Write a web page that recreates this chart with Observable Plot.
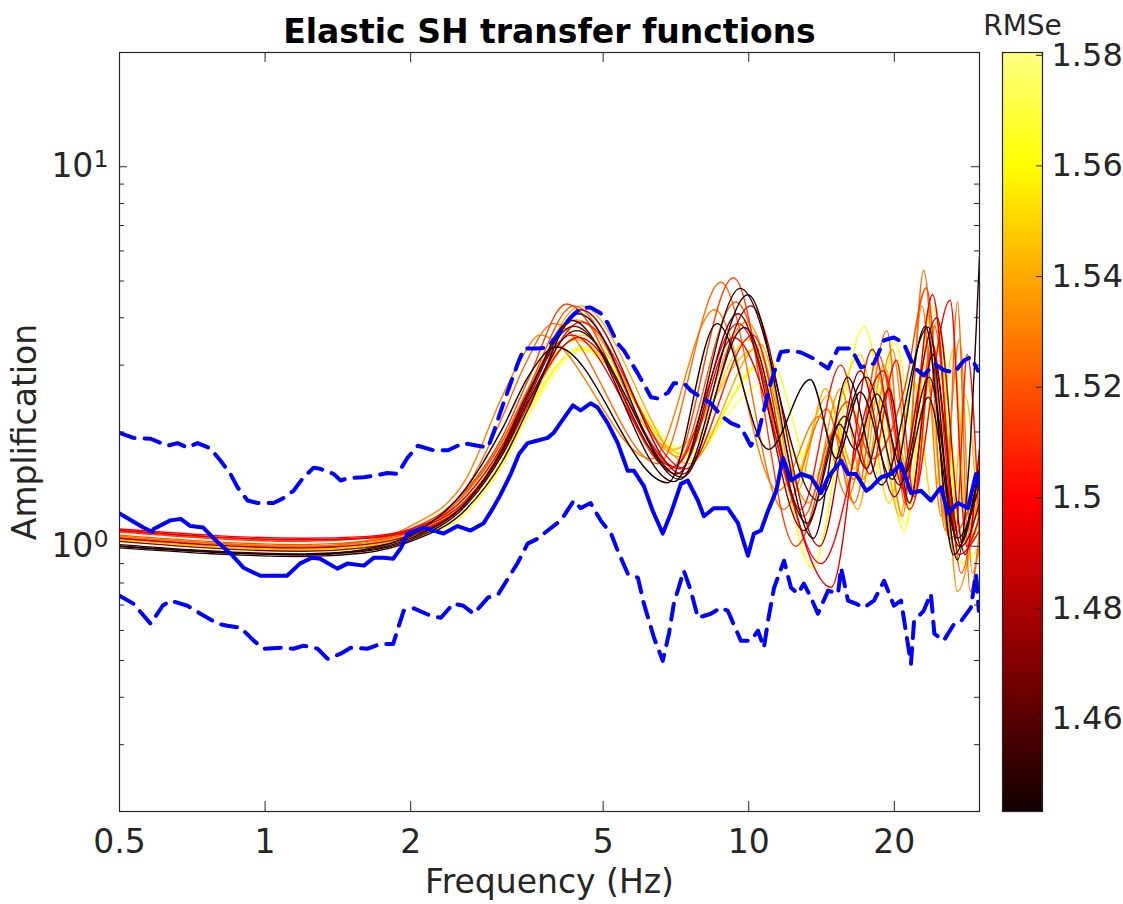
<!DOCTYPE html>
<html><head><meta charset="utf-8">
<script src="https://cdn.jsdelivr.net/npm/d3@7"></script>
<script src="https://cdn.jsdelivr.net/npm/@observablehq/plot@0.6"></script>
<style>
html,body{margin:0;padding:0;background:#fff;}
#wrap{display:flex;width:1123px;height:904px;background:#fff;}
#wrap svg{display:block;}
</style></head><body><div id="wrap"></div>
<script>
// ---- axis ticks ----
const freqTicks = [0.5, 1, 2, 5, 10, 20];
const ampMajorTicks = [1, 10];
const ampMajorExp = ["0", "1"];
const ampMinorTicks = [0.3, 0.4, 0.5, 0.6, 0.7, 0.8, 0.9, 2, 3, 4, 5, 6, 7, 8, 9];
const rmseTicks = [1.46, 1.48, 1.5, 1.52, 1.54, 1.56, 1.58];
const rmseDomain = [1.4433, 1.5805];

// ---- observed mean (solid blue) ----
const meanFreq = [0.5,0.56,0.585,0.588,0.637,0.669,0.701,0.745,0.782,0.849,0.902,0.978,1.11,1.18,1.25,1.30,1.41,1.48,1.60,1.68,1.76,1.84,1.91,1.97,2.13,2.34,2.50,2.66,2.83,2.96,3.07,3.22,3.35,3.49,3.66,3.84,3.95,4.15,4.33,4.49,4.71,4.87,5.11,5.36,5.62,5.79,6.07,6.33,6.64,6.90,7.24,7.48,7.85,8.08,8.47,9.05,9.50,9.96,10.25,10.6,10.96,11.4,11.77,12.23,12.82,13.45,14.11,14.59,15.52,16.04,16.66,17.49,17.91,18.77,19.70,20.65,21.65,22.71,23.8,24.98,25.8,27.1,28.4,29.5,30];
const meanAmp = [1.22,1.12,1.09,1.11,1.17,1.18,1.13,1.12,1.05,0.956,0.878,0.836,0.836,0.90,0.933,0.927,0.873,0.90,0.889,0.933,0.933,0.927,0.99,1.08,1.12,1.08,1.13,1.10,1.15,1.26,1.37,1.55,1.75,1.87,1.90,1.93,1.99,2.18,2.35,2.28,2.38,2.32,2.11,1.87,1.58,1.58,1.44,1.24,1.08,1.22,1.46,1.49,1.32,1.20,1.26,1.26,1.15,0.944,1.08,1.10,1.24,1.40,1.71,1.49,1.55,1.52,1.38,1.52,1.68,1.55,1.55,1.40,1.43,1.52,1.55,1.65,1.38,1.40,1.32,1.43,1.22,1.30,1.26,1.55,1.43];

// ---- upper bound (dashed blue) ----
const upperFreq = [0.5,0.534,0.58,0.628,0.659,0.691,0.725,0.771,0.809,0.848,0.877,0.92,0.965,1.041,1.092,1.145,1.201,1.26,1.30,1.386,1.433,1.48,1.60,1.71,1.79,1.88,1.97,2.07,2.23,2.39,2.57,2.75,2.89,2.97,3.11,3.22,3.33,3.43,3.66,3.84,4.09,4.29,4.49,4.71,4.94,5.11,5.36,5.52,5.90,6.28,6.49,6.81,7.0,7.34,7.59,7.96,8.35,8.76,9.19,9.63,10.1,10.45,10.75,11.1,11.65,12.23,12.82,13.64,14.59,15.3,16.28,17.06,18.15,19.05,19.96,20.9,21.97,23.0,24.2,25.3,26.6,27.9,28.8,29.8,30];
const upperAmp = [1.99,1.93,1.92,1.84,1.87,1.82,1.87,1.81,1.68,1.55,1.43,1.32,1.30,1.30,1.34,1.40,1.52,1.61,1.60,1.55,1.49,1.51,1.52,1.54,1.56,1.55,1.71,1.84,1.79,1.79,1.87,1.84,1.82,2.0,2.38,2.69,3.03,3.32,3.32,3.34,3.71,4.01,4.24,4.26,4.11,3.87,3.42,3.28,2.85,2.47,2.45,2.54,2.69,2.69,2.57,2.47,2.38,2.21,2.11,2.06,1.84,1.98,2.28,2.69,3.25,3.28,3.24,3.12,2.94,3.32,3.32,2.96,3.03,3.49,3.55,3.43,2.96,2.82,3.03,2.91,2.87,3.09,3.15,2.9,2.9];

// ---- lower bound (dashed blue) ----
const lowerFreq = [0.5,0.534,0.58,0.614,0.637,0.691,0.735,0.798,0.836,0.89,0.947,0.993,1.077,1.145,1.201,1.284,1.347,1.433,1.503,1.63,1.734,1.84,1.934,2.03,2.20,2.31,2.45,2.57,2.70,2.89,3.04,3.33,3.49,3.66,3.84,4.09,4.35,4.49,4.71,4.94,5.19,5.36,5.62,5.90,6.07,6.37,6.64,6.84,7.0,7.34,7.59,7.85,8.35,8.76,9.05,9.63,10.1,10.45,10.75,10.96,11.28,11.83,12.23,12.64,13.0,13.45,13.9,14.59,15.3,15.52,16.04,16.66,17.3,18.15,19.05,19.96,20.65,21.65,21.97,23.0,23.8,24.2,25.3,26.6,27.5,28.8,29.5,29.9];
const lowerAmp = [0.741,0.706,0.625,0.697,0.719,0.697,0.664,0.625,0.617,0.610,0.564,0.537,0.540,0.537,0.547,0.537,0.505,0.521,0.540,0.537,0.553,0.553,0.676,0.686,0.656,0.648,0.706,0.697,0.664,0.732,0.750,0.905,1.016,1.047,1.10,1.17,1.32,1.26,1.30,1.17,1.08,0.974,0.847,0.826,0.706,0.574,0.499,0.588,0.706,0.862,0.764,0.648,0.664,0.689,0.676,0.564,0.564,0.599,0.540,0.636,0.777,0.916,0.777,0.750,0.797,0.732,0.664,0.764,0.750,0.878,0.719,0.706,0.689,0.719,0.811,0.697,0.719,0.490,0.636,0.676,0.750,0.588,0.564,0.625,0.636,0.689,0.847,0.676];

// ---- elastic SH transfer functions (one per model), coloured by RMSe ----
const tfRmse = [1.445,1.448,1.452,1.456,1.47,1.48,1.495,1.50,1.505,1.515,1.52,1.525,1.53,1.535,1.54,1.545,1.55,1.56,1.565,1.575];
const tfFreq = [
  [0.5,1.2,1.6,2.0,2.6,3.1,3.5,4.0,6.8,8.6,11.0,13.4,15.2,17.0,19.8,23.2,26.5,30],
  [0.5,1.2,1.6,2.0,2.6,3.1,3.5,4.45,7.2,9.96,13.6,16.0,18.8,23.5,27.0,28.5,30],
  [0.5,1.2,1.6,2.0,2.6,3.1,3.5,4.3,7.0,9.6,13.9,17.5,20.5,23.6,27.2,30],
  [0.5,1.2,1.6,2.0,2.6,3.1,3.5,4.4,7.3,9.8,13.2,15.4,16.6,18.4,21.0,23.5,27.0,30],
  [0.5,1.2,1.6,2.0,2.6,3.1,3.5,4.35,7.1,9.5,13.0,15.8,17.5,19.5,21.5,24.0,27.5,30],
  [0.5,1.2,1.6,2.0,2.6,3.1,3.5,4.5,7.3,10.1,14.0,17.0,20.0,24.5,28.0,30],
  [0.5,1.2,1.6,2.0,2.6,3.1,3.5,4.45,7.2,9.3,14.8,18.0,21.0,24.0,27.2,30],
  [0.5,1.2,1.6,2.0,2.6,3.1,3.5,4.3,7.0,9.5,14.1,19.0,21.5,26.1,28.2,30],
  [0.5,1.2,1.6,2.0,2.6,3.1,3.5,4.5,7.4,10.2,12.8,15.5,17.8,20.2,22.0,24.0,26.8,28.3,30],
  [0.5,1.2,1.6,2.0,2.6,3.1,3.5,4.2,6.9,9.3,12.5,16.0,18.0,21.0,23.3,26.0,30],
  [0.5,1.2,1.6,2.0,2.6,3.1,3.5,4.35,7.0,9.4,13.0,15.0,16.5,18.5,21.5,24.2,27.5,30],
  [0.5,1.2,1.6,2.0,2.6,3.1,3.4,3.95,6.5,8.76,11.8,14.5,16.5,19.3,21.0,23.0,25.5,27.0,28.7,30],
  [0.5,1.2,1.6,2.0,2.6,3.1,3.4,3.7,6.3,8.5,11.5,14.0,16.0,18.5,20.8,22.8,25.0,27.3,29.0,30],
  [0.5,1.2,1.6,2.0,2.6,3.1,3.5,4.4,7.2,9.9,13.3,15.5,17.2,19.8,21.8,24.5,27.0,30],
  [0.5,1.2,1.6,2.0,2.6,3.1,3.5,4.5,7.5,10.6,12.6,14.4,16.8,19.0,21.3,23.7,26.5,30],
  [0.5,1.2,1.6,2.0,2.6,3.1,3.5,4.4,7.0,10.3,12.2,14.6,16.5,18.3,20.5,23.0,26.0,28.0,30],
  [0.5,1.2,1.6,2.0,2.6,3.1,3.5,4.5,7.3,10.0,13.5,17.0,19.5,22.0,24.0,26.5,28.5,30],
  [0.5,1.2,1.6,2.0,2.6,3.1,3.5,4.5,7.6,10.5,13.5,17.3,21.0,24.0,27.5,30],
  [0.5,1.2,1.6,2.0,2.6,3.1,3.5,4.55,7.4,11.0,14.0,16.5,18.0,20.0,22.5,25.0,27.5,30],
  [0.5,1.2,1.6,2.0,2.6,3.1,3.5,4.6,7.5,10.8,12.6,14.5,17.0,19.0,21.0,24.5,28.0,30]
];
const tfAmp = [
  [1.00,0.95,0.98,1.07,1.42,2.05,2.8,3.35,1.47,3.86,1.80,2.75,1.70,2.55,1.50,3.8,0.95,1.6],
  [0.99,0.94,0.96,1.03,1.25,1.68,2.3,4.1,1.5,4.6,1.05,2.79,1.45,3.78,0.92,1.6,5.8],
  [1.01,0.955,0.975,1.05,1.3,1.8,2.5,3.94,1.48,4.78,1.32,2.79,1.45,2.79,1.0,1.6],
  [1.0,0.95,0.97,1.04,1.28,1.75,2.4,3.7,1.52,3.77,1.15,2.1,1.8,2.52,1.55,2.47,1.05,1.45],
  [1.03,0.97,0.99,1.06,1.3,1.82,2.55,3.8,1.55,4.1,1.1,2.2,1.6,2.6,1.3,3.2,1.0,1.3],
  [1.05,0.99,1.01,1.07,1.3,1.78,2.45,4.2,1.55,4.3,1.0,2.9,1.35,4.0,0.95,1.8],
  [1.10,1.04,1.05,1.10,1.32,1.78,2.4,3.55,1.6,3.55,0.78,3.3,1.4,4.6,0.95,1.1],
  [1.11,1.05,1.06,1.11,1.35,1.85,2.55,3.6,1.62,3.86,0.90,2.9,1.25,4.45,1.0,1.2],
  [1.10,1.04,1.05,1.09,1.3,1.75,2.35,3.9,1.6,3.6,1.25,3.0,1.55,3.09,1.35,3.4,1.1,3.2,1.1],
  [1.09,1.03,1.05,1.11,1.4,1.95,2.75,4.35,1.6,5.1,1.0,2.4,1.7,2.6,4.8,1.05,1.5],
  [1.07,1.01,1.03,1.09,1.38,1.9,2.6,4.3,1.62,4.4,1.2,2.0,1.5,3.2,1.3,3.8,0.85,1.8],
  [1.06,1.0,1.03,1.11,1.42,2.2,2.9,3.86,1.65,4.96,1.25,2.3,1.3,3.7,1.3,5.33,1.1,4.4,0.76,1.1],
  [1.05,0.99,1.03,1.13,1.5,2.5,3.15,3.6,1.7,4.2,1.4,2.2,1.35,2.8,1.2,4.3,1.2,3.5,0.85,1.0],
  [1.06,1.0,1.02,1.09,1.38,1.9,2.6,3.95,1.72,3.9,1.3,2.6,1.5,3.3,1.35,3.9,0.76,1.5],
  [1.05,0.99,1.01,1.08,1.35,1.85,2.55,4.3,1.65,3.4,1.4,2.6,1.25,3.0,1.6,3.6,1.0,1.3],
  [1.04,0.98,1.0,1.07,1.32,1.8,2.45,3.5,1.8,3.3,1.45,2.5,1.6,2.4,1.2,3.0,1.05,2.5,1.0],
  [1.06,1.0,1.01,1.07,1.3,1.75,2.35,3.6,1.75,3.5,1.5,3.2,1.3,2.7,1.3,3.3,1.0,1.2],
  [1.05,0.99,1.0,1.05,1.25,1.7,2.3,3.3,1.7,3.0,0.88,3.78,1.1,4.3,1.1,1.3],
  [1.04,0.98,0.99,1.04,1.24,1.66,2.25,3.35,1.75,3.1,1.4,2.3,1.4,3.5,1.7,3.6,0.9,1.0],
  [1.03,0.97,0.98,1.04,1.22,1.63,2.2,3.3,1.78,2.7,1.7,2.3,1.45,2.2,1.15,3.4,1.2,1.5]
];

// ---- build tables ----
const pairRows = (fs, as) => fs.map((f, i) => ({f, a: as[i]}));
const meanRows = pairRows(meanFreq, meanAmp);
const upperRows = pairRows(upperFreq, upperAmp);
const lowerRows = pairRows(lowerFreq, lowerAmp);
const order = tfRmse.map((r, i) => i).sort((i, j) => tfRmse[j] - tfRmse[i]);
const tfRows = order.flatMap(i => tfFreq[i].map((f, j) => ({id: i, r: tfRmse[i], f, a: tfAmp[i][j]})));

// MATLAB-like "hot" colormap over the RMSe range
function hot(t) {
  const v = rmseDomain[0] + t * (rmseDomain[1] - rmseDomain[0]);
  const c = x => Math.max(0, Math.min(1, x));
  const r = 0.07 + 0.93 * c((v - rmseDomain[0]) / (1.50 - rmseDomain[0]));
  const g = c((v - 1.50) / 0.06);
  const b = c((v - 1.56) / 0.04);
  return d3.rgb(r * 255, g * 255, b * 255).formatHex();
}
const colorOpts = {type: "linear", domain: rmseDomain, interpolate: hot};
const ink = "#262626";
const font = "'DejaVu Sans', sans-serif";

const main = Plot.plot({
  width: 990, height: 904,
  marginLeft: 119, marginRight: 11, marginTop: 52, marginBottom: 93,
  style: {fontFamily: font, fontSize: "33px", color: ink, background: "#fff", overflow: "visible"},
  x: {type: "log", domain: [0.5, 30]},
  y: {type: "log", domain: [0.2, 20]},
  color: colorOpts,
  marks: [
    Plot.line(tfRows, {x: "f", y: "a", z: "id", stroke: "r", strokeWidth: 1.4, curve: "monotone-x", clip: true}),
    Plot.line(upperRows, {x: "f", y: "a", stroke: "#0000ff", strokeWidth: 4, strokeDasharray: "16,10", strokeLinejoin: "round", clip: true}),
    Plot.line(lowerRows, {x: "f", y: "a", stroke: "#0000ff", strokeWidth: 4, strokeDasharray: "16,10", strokeLinejoin: "round", clip: true}),
    Plot.line(meanRows, {x: "f", y: "a", stroke: "#0000ff", strokeWidth: 4, strokeLinejoin: "round", clip: true}),
    Plot.frame({stroke: ink, strokeWidth: 1.2}),
    Plot.tickX(freqTicks.slice(1), {x: d => d, insetTop: 749, stroke: ink}),
    Plot.tickX(freqTicks.slice(1), {x: d => d, insetBottom: 749, stroke: ink}),
    Plot.tickY(ampMajorTicks, {y: d => d, insetRight: 852, stroke: ink}),
    Plot.tickY(ampMajorTicks, {y: d => d, insetLeft: 852, stroke: ink}),
    Plot.tickY(ampMinorTicks, {y: d => d, insetRight: 855, stroke: ink}),
    Plot.tickY(ampMinorTicks, {y: d => d, insetLeft: 855, stroke: ink}),
    Plot.axisX(freqTicks, {tickSize: 0, tickPadding: 18, fontSize: 33, label: null, tickFormat: d => String(d)}),
    Plot.axisY(ampMajorTicks, {tickSize: 0, tickPadding: 11, fontSize: 33, label: null, tickFormat: d => "10^" + ampMajorExp[ampMajorTicks.indexOf(d)]}),
    Plot.text(["Frequency (Hz)"], {text: d => d, frameAnchor: "bottom", lineAnchor: "middle", textAnchor: "middle", dy: 71, fontSize: 33, fill: ink}),
    Plot.text(["Amplification"], {text: d => d, frameAnchor: "left", lineAnchor: "middle", textAnchor: "middle", dx: -94, rotate: -90, fontSize: 33, fill: ink}),
    Plot.text(["Elastic SH transfer functions"], {text: d => d, frameAnchor: "top", lineAnchor: "middle", textAnchor: "middle", dy: -20, fontSize: 33, fontWeight: "bold", fill: "#000"})
  ]
});

// render the exponent of "10^k" as a real superscript
d3.select(main).selectAll("text").each(function() {
  const s = this.textContent;
  const m = /^10\^(\d)$/.exec(s);
  if (!m) return;
  const t = d3.select(this);
  t.text(null);
  t.append("tspan").text("10");
  t.append("tspan").attr("dy", "-0.42em").attr("font-size", "0.72em").text(m[1]);
});

const cbar = Plot.plot({
  width: 133, height: 904,
  marginLeft: 12, marginRight: 81, marginTop: 52, marginBottom: 93,
  style: {fontFamily: font, fontSize: "32px", color: ink, background: "#fff", overflow: "visible"},
  x: {domain: [0, 1], axis: null},
  y: {domain: rmseDomain},
  color: colorOpts,
  marks: [
    Plot.raster({fill: (x, y) => y, x1: 0, x2: 1, y1: rmseDomain[0], y2: rmseDomain[1], width: 4, height: 380}),
    Plot.frame({stroke: ink, strokeWidth: 1.2}),
    Plot.tickY(rmseTicks, {y: d => d, insetLeft: 34, stroke: ink}),
    Plot.axisY(rmseTicks, {anchor: "right", tickSize: 0, tickPadding: 9, fontSize: 32, label: null, tickFormat: d => String(+d.toFixed(2))}),
    Plot.text(["RMSe"], {text: d => d, frameAnchor: "top", lineAnchor: "middle", textAnchor: "middle", dy: -26, fontSize: 28, fill: ink})
  ]
});

const wrap = document.getElementById("wrap");
wrap.appendChild(main);
wrap.appendChild(cbar);
</script>
</body></html>
